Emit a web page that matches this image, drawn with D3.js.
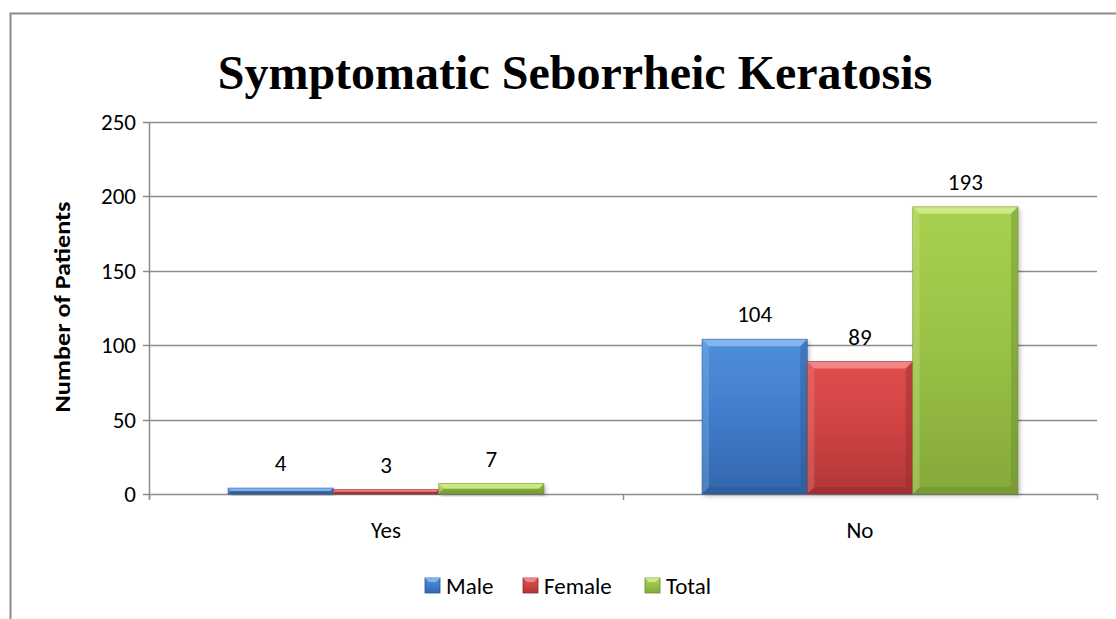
<!DOCTYPE html>
<html><head><meta charset="utf-8">
<script src="https://cdn.jsdelivr.net/npm/d3@7"></script>
<style>body{margin:0;background:#fff}svg{display:block}</style>
</head><body>
<svg id="c" width="1116" height="619"></svg>
<script>
const categories = ["Yes", "No"];
const seriesNames = ["Male", "Female", "Total"];
const male = [4, 104];
const female = [3, 89];
const total = [7, 193];
const yTicks = [0, 50, 100, 150, 200, 250];
const title = "Symptomatic Seborrheic Keratosis";
const yTitle = "Number of Patients";

const seriesValues = [male, female, total];
const colors = [
  {top:"#4f8fdb", mid:"#407ccb", bot:"#3467ac", light:"#8fbcf0", dark:"#2a5590"},
  {top:"#e04d4d", mid:"#d04343", bot:"#b03636", light:"#f29090", dark:"#8e2a2a"},
  {top:"#a8d150", mid:"#99c145", bot:"#85a83a", light:"#d2ee8e", dark:"#6a8a2c"}
];

const svg = d3.select("#c");
const W = 1116, H = 619;
const L = 149, R = 1097, T = 122, B = 494;

// outer border
svg.append("path").attr("d", `M10.5,${H} V13.5 H${W}`).attr("fill","none").attr("stroke","#8c8c8c").attr("stroke-width",2);

const x0 = d3.scaleBand().domain(categories).range([L, R]).paddingInner(0).paddingOuter(0);
const y = d3.scaleLinear().domain([0, 250]).range([B, T]);
const barW = x0.bandwidth() / (3 + 1.5);
const x1 = d3.scaleBand().domain(seriesNames).range([0, barW*3]);

const defs = svg.append("defs");
colors.forEach((c, i) => {
  const g = defs.append("linearGradient").attr("id","g"+i).attr("x1",0).attr("y1",0).attr("x2",0).attr("y2",1);
  g.append("stop").attr("offset","0%").attr("stop-color",c.top);
  g.append("stop").attr("offset","50%").attr("stop-color",c.mid);
  g.append("stop").attr("offset","100%").attr("stop-color",c.bot);
});
const f = defs.append("filter").attr("id","sh").attr("x","-10%").attr("y","-10%").attr("width","130%").attr("height","130%");
f.append("feDropShadow").attr("dx",2).attr("dy",2).attr("stdDeviation",2).attr("flood-color","#000").attr("flood-opacity",0.25);

// gridlines
svg.append("g").selectAll("line").data(yTicks).join("line")
  .attr("x1", L - 6).attr("x2", R).attr("y1", d => Math.round(y(d))+0.5).attr("y2", d => Math.round(y(d))+0.5)
  .attr("stroke","#8c8c8c").attr("stroke-width",1.5);

// y axis line
svg.append("line").attr("x1",L+0.5).attr("x2",L+0.5).attr("y1",T).attr("y2",B+5).attr("stroke","#8c8c8c").attr("stroke-width",1.5);
// x category ticks
const xTickPos = [L, (L+R)/2, R];
svg.append("g").selectAll("line").data(xTickPos).join("line")
  .attr("x1",d=>d+0.5).attr("x2",d=>d+0.5).attr("y1",B).attr("y2",B+6).attr("stroke","#8c8c8c").attr("stroke-width",1.5);

const font = "Carlito, Calibri, Lato, sans-serif";
const fs = 23;

// y tick labels
svg.append("g").selectAll("text").data(yTicks).join("text")
  .attr("x", L - 13).attr("y", d => y(d)).attr("dy","0.35em")
  .attr("text-anchor","end").attr("font-family",font).attr("font-size",fs).attr("fill","#000")
  .text(d => d);

// y title
svg.append("text").attr("transform",`translate(70,307) rotate(-90)`)
  .attr("text-anchor","middle").attr("font-family",font).attr("font-weight","bold").attr("font-size",22)
  .attr("textLength",211).attr("lengthAdjust","spacingAndGlyphs")
  .text(yTitle);

// title
svg.append("text").attr("x",575).attr("y",89).attr("text-anchor","middle")
  .attr("font-family","'Liberation Serif','Times New Roman',serif").attr("font-weight","bold").attr("font-size",48)
  .text(title);

// bars
const groups = svg.append("g").selectAll("g").data(categories).join("g")
  .attr("transform", d => `translate(${x0(d) + (x0.bandwidth() - barW*3)/2},0)`);

groups.each(function(cat, ci){
  const g = d3.select(this);
  seriesNames.forEach((s, si) => {
    const v = seriesValues[si][ci];
    const bx = x1(s), by = y(v), bw = x1.bandwidth(), bh = B - y(v);
    const c = colors[si];
    const bg = g.append("g");
    bg.append("rect").attr("x",bx).attr("y",by).attr("width",bw).attr("height",bh)
      .attr("fill","url(#g"+si+")").attr("filter","url(#sh)");
    const e = Math.min(7, bh/2);
    bg.append("path").attr("d",`M${bx},${by} H${bx+bw} L${bx+bw-e},${by+e} H${bx+e} Z`).attr("fill",c.light).attr("opacity",0.85);
    bg.append("path").attr("d",`M${bx},${by} L${bx+e},${by+e} V${by+bh-e} L${bx},${by+bh} Z`).attr("fill",c.light).attr("opacity",0.3);
    bg.append("path").attr("d",`M${bx+bw},${by} L${bx+bw-e},${by+e} V${by+bh-e} L${bx+bw},${by+bh} Z`).attr("fill",c.dark).attr("opacity",0.4);
    bg.append("path").attr("d",`M${bx},${by+bh} L${bx+e},${by+bh-e} H${bx+bw-e} L${bx+bw},${by+bh} Z`).attr("fill",c.dark).attr("opacity",0.45);
    bg.append("rect").attr("x",bx).attr("y",by).attr("width",bw).attr("height",bh)
      .attr("fill","none").attr("stroke",c.dark).attr("stroke-width",0.8).attr("opacity",0.6);
    g.append("text").attr("x",bx+bw/2).attr("y",by - 17).attr("text-anchor","middle")
      .attr("font-family",font).attr("font-size",fs).text(v);
  });
});

// x category labels
svg.append("g").selectAll("text").data(categories).join("text")
  .attr("x", d => x0(d) + x0.bandwidth()/2).attr("y", 538).attr("text-anchor","middle")
  .attr("font-family",font).attr("font-size",fs).text(d => d);

// legend
const legX = [425, 523, 645];
const leg = svg.append("g").selectAll("g").data(seriesNames).join("g")
  .attr("transform",(d,i)=>`translate(${legX[i]},578)`);
leg.append("rect").attr("width",15).attr("height",15).attr("fill",(d,i)=>`url(#g${i})`).attr("stroke",(d,i)=>colors[i].dark).attr("stroke-width",0.8);
leg.append("path").attr("d","M0,0 H15 L11,4 H4 Z").attr("fill",(d,i)=>colors[i].light).attr("opacity",0.85);
leg.append("text").attr("x",21).attr("y",8).attr("dy","0.35em").attr("font-family",font).attr("font-size",fs).text(d=>d);
</script>
</body></html>
